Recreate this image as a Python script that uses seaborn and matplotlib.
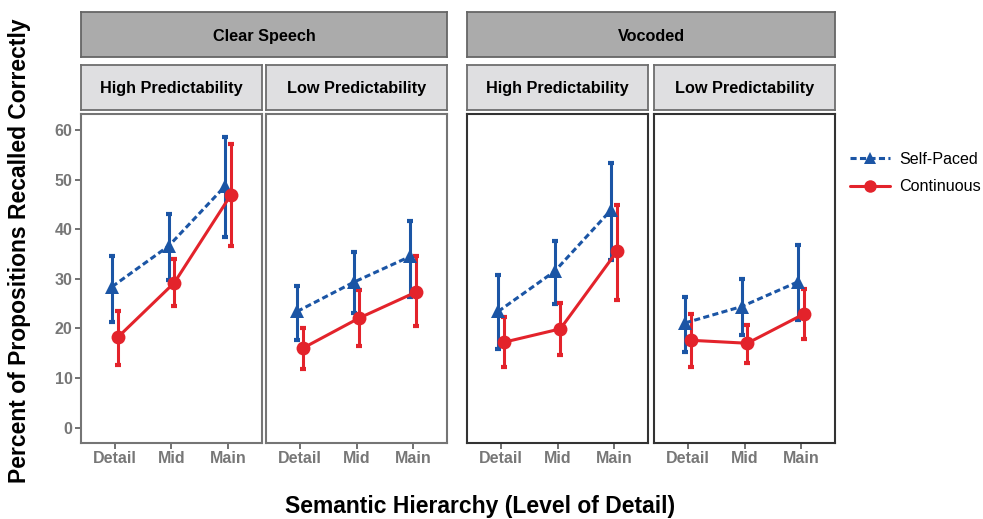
import numpy as np
import pandas as pd
import seaborn as sns
import matplotlib.pyplot as plt
from matplotlib.lines import Line2D

levels = ["Detail", "Mid", "Main"]
panels = ["High Predictability", "Low Predictability", "High Predictability", "Low Predictability"]
groups = ["Clear Speech", "Vocoded"]
series = ["Self-Paced", "Continuous"]

# one row per panel: Clear/High, Clear/Low, Vocoded/High, Vocoded/Low
sp_mean = [[28.4, 36.6, 48.7], [23.4, 29.3, 34.5], [23.4, 31.5, 43.9], [21.1, 24.4, 29.4]]
sp_lo = [[21.3, 29.8, 38.5], [17.6, 23.0, 26.4], [15.8, 25.0, 33.7], [15.2, 18.6, 21.7]]
sp_hi = [[34.6, 43.1, 58.6], [28.6, 35.3, 41.7], [30.7, 37.7, 53.4], [26.4, 30.0, 36.9]]
cont_mean = [[18.2, 29.2, 46.9], [16.0, 22.1, 27.3], [17.2, 19.9, 35.5], [17.6, 17.0, 22.9]]
cont_lo = [[12.7, 24.6, 36.7], [11.9, 16.5, 20.4], [12.3, 14.6, 25.8], [12.3, 13.1, 17.8]]
cont_hi = [[23.5, 33.9, 57.2], [20.1, 27.8, 34.5], [22.2, 25.2, 44.9], [22.8, 20.7, 27.9]]

yticks = [0, 10, 20, 30, 40, 50, 60]

blue = "#1B55A5"
red = "#E3232B"
palette = {"Self-Paced": blue, "Continuous": red}

rows = []
for p in range(4):
    for i, lev in enumerate(levels):
        rows.append(dict(panel=p, level=i, series="Self-Paced",
                         y=sp_mean[p][i], lo=sp_lo[p][i], hi=sp_hi[p][i]))
        rows.append(dict(panel=p, level=i, series="Continuous",
                         y=cont_mean[p][i], lo=cont_lo[p][i], hi=cont_hi[p][i]))
df = pd.DataFrame(rows)
dodge = {"Self-Paced": -0.05, "Continuous": 0.05}
df["x"] = df["level"] + df["series"].map(dodge)

sns.set_style("white")
plt.rcParams["font.family"] = ["Liberation Sans", "DejaVu Sans"]
plt.rcParams["text.color"] = "black"

W, H = 983, 519
fig = plt.figure(figsize=(W / 100, H / 100), dpi=100)

def fbox(x0, y0, x1, y1):
    return [x0 / W, 1 - y1 / H, (x1 - x0) / W, (y1 - y0) / H]

px = [(81, 262), (266, 447), (467, 648), (654, 835)]
frame_col = ["#757575", "#757575", "#333333", "#333333"]

for p in range(4):
    ax = fig.add_axes(fbox(px[p][0], 114, px[p][1], 443))
    d = df[df.panel == p]
    sns.lineplot(data=d, x="x", y="y", hue="series", style="series",
                 hue_order=series, style_order=series, palette=palette,
                 markers={"Self-Paced": "^", "Continuous": "o"},
                 dashes={"Self-Paced": (2, 1.1), "Continuous": ""},
                 markersize=10, markeredgewidth=0, linewidth=2.2,
                 legend=False, ax=ax, zorder=3)
    for s in series:
        ds = d[d.series == s]
        ax.errorbar(ds["x"], ds["y"], yerr=[ds["y"] - ds["lo"], ds["hi"] - ds["y"]],
                    fmt="none", ecolor=palette[s], elinewidth=2.2,
                    capsize=2.4, capthick=3, zorder=2)
    ax.set_xlim(-0.6, 2.6)
    ax.set_ylim(-3.1, 63.2)
    ax.set_xticks(range(3))
    ax.set_xticklabels(levels)
    ax.set_yticks(yticks)
    ax.set_xlabel("")
    ax.set_ylabel("")
    for sp in ax.spines.values():
        sp.set_color(frame_col[p])
        sp.set_linewidth(1.5)
    ax.tick_params(axis="both", which="both", length=4, width=1.3, color="#666666",
                   labelcolor="#777777", labelsize=11.5, pad=2, direction="out",
                   bottom=True, left=(p == 0))
    for t in ax.get_xticklabels() + ax.get_yticklabels():
        t.set_fontweight("bold")
    if p != 0:
        ax.set_yticklabels([])

    # inner strip
    r = fig.add_axes(fbox(px[p][0], 65, px[p][1], 110))
    r.set_xticks([]); r.set_yticks([])
    r.set_facecolor("#DFDFE1")
    for sp in r.spines.values():
        sp.set_color("#6E6E6E"); sp.set_linewidth(1.3)
    r.text(0.5, 0.47, panels[p], ha="center", va="center", fontsize=11.7,
           fontweight="bold", transform=r.transAxes)

# outer strips
for g, (x0, x1) in enumerate([(81, 447), (467, 835)]):
    r = fig.add_axes(fbox(x0, 12, x1, 57))
    r.set_xticks([]); r.set_yticks([])
    r.set_facecolor("#ABABAB")
    for sp in r.spines.values():
        sp.set_color("#666666"); sp.set_linewidth(1.3)
    r.text(0.5, 0.45, groups[g], ha="center", va="center", fontsize=11.7,
           fontweight="bold", transform=r.transAxes)

fig.text(20 / W, 1 - 251 / H, "Percent of Propositions Recalled Correctly",
         rotation=90, ha="center", va="center", fontsize=16.5, fontweight="bold")
fig.text(480 / W, 1 - 507 / H, "Semantic Hierarchy (Level of Detail)",
         ha="center", va="center", fontsize=16.5, fontweight="bold")

handles = [
    Line2D([], [], color=blue, linestyle=(0, (2, 1.1)), linewidth=2.2,
           marker="^", markersize=9, markeredgewidth=0),
    Line2D([], [], color=red, linestyle="-", linewidth=2.2,
           marker="o", markersize=9, markeredgewidth=0),
]
fig.legend(handles, series, loc="center left", bbox_to_anchor=(835 / W, 1 - 173 / H),
           frameon=False, fontsize=11.6, handlelength=2.5, handletextpad=0.6,
           labelspacing=0.8)

fig.savefig("out.png", dpi=100)
